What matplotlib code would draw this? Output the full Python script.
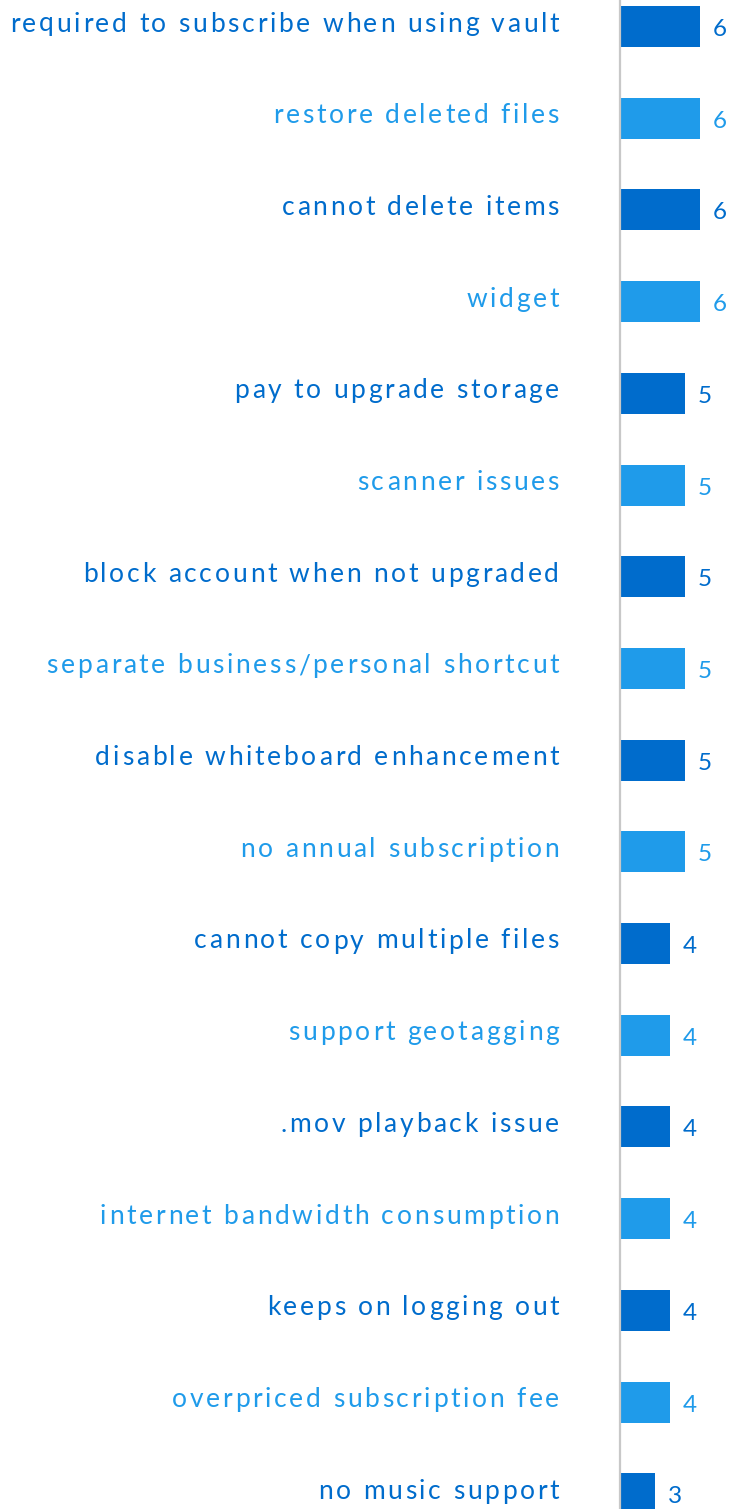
import matplotlib
matplotlib.use('Agg')
import matplotlib.pyplot as plt
from matplotlib.font_manager import FontProperties, findfont
from matplotlib.ft2font import FT2Font
from matplotlib.lines import Line2D

categories = [
    "required to subscribe when using vault",
    "restore deleted files",
    "cannot delete items",
    "widget",
    "pay to upgrade storage",
    "scanner issues",
    "block account when not upgraded",
    "separate business/personal shortcut",
    "disable whiteboard enhancement",
    "no annual subscription",
    "cannot copy multiple files",
    "support geotagging",
    ".mov playback issue",
    "internet bandwidth consumption",
    "keeps on logging out",
    "overpriced subscription fee",
    "no music support",
]
values = [6, 6, 6, 6, 5, 5, 5, 5, 5, 5, 4, 4, 4, 4, 4, 4, 3]

DARK = '#006CCC'
LIGHT = '#1F9BEA'
colors = [DARK if i % 2 == 0 else LIGHT for i in range(len(values))]

W, H, DPI = 731, 1509, 100
fig = plt.figure(figsize=(W / DPI, H / DPI), dpi=DPI)
fig.patch.set_facecolor('white')

AX_LEFT = 621
ROW0 = 26.5
ROW_STEP = 91.7
PX_PER_UNIT = 15.0
X_MIN = 0.73

ax = fig.add_axes([AX_LEFT / W, 0, (W - AX_LEFT) / W, 1])
n = len(values)
ypos = list(range(n))
ax.barh(ypos, values, height=41 / ROW_STEP, color=colors, left=0)
ax.set_xlim(X_MIN, X_MIN + (W - AX_LEFT) / PX_PER_UNIT)
ax.set_ylim((H - ROW0) / ROW_STEP, -ROW0 / ROW_STEP)
ax.axis('off')

fig.add_artist(Line2D([619.5 / W, 619.5 / W], [0, 1], color='#c8c8c8',
                      lw=1.6, transform=fig.transFigure))

for i, v in enumerate(values):
    ax.annotate(str(v), xy=(v, i), xytext=(13, -3), textcoords='offset pixels',
                ha='left', va='center', color=colors[i], fontsize=17.5,
                family='Lato')

# category labels with letter spacing
LABEL_PT = 19
SPACING = 2.75
fp = FontProperties(family='Lato', size=LABEL_PT)
font = FT2Font(findfont(fp))
font.set_size(LABEL_PT, DPI)


def advance(c):
    g = font.load_char(ord(c))
    return g.linearHoriAdvance / 65536.0


RIGHT_PX = 559
for i, label in enumerate(categories):
    adv = [advance(c) for c in label]
    total = sum(adv) + SPACING * (len(label) - 1)
    x = RIGHT_PX - total
    base = ROW0 + i * ROW_STEP + 5
    for c, a in zip(label, adv):
        if c != ' ':
            fig.text(x / W, 1 - base / H, c, fontproperties=fp, color=colors[i],
                     ha='left', va='baseline')
        x += a + SPACING

fig.savefig('out.png', dpi=DPI, facecolor='white')
